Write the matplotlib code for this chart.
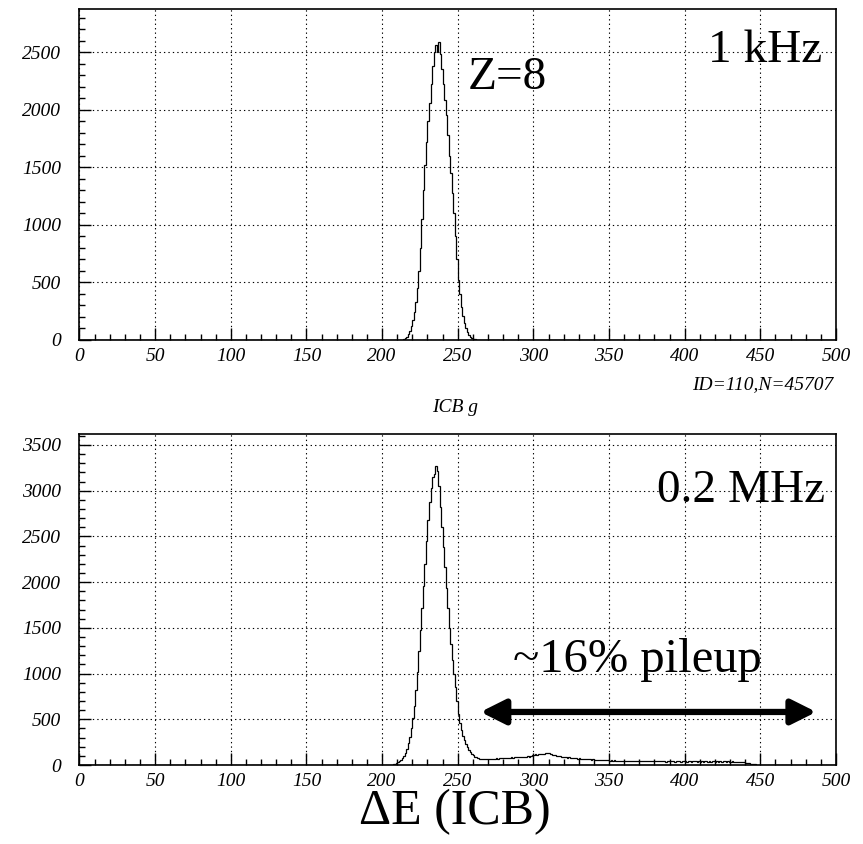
import numpy as np
import matplotlib.pyplot as plt
from matplotlib.ticker import MultipleLocator

# ---- data (counts per ICB channel, bin width 1) ----
N_BINS = 500

# 1 kHz run, Z=8 peak
top_first_bin = 214
top_counts = [5, 15, 30, 50, 80, 120, 170, 240, 330, 450,
              600, 800, 1050, 1300, 1520, 1720, 1900, 2060, 2220, 2380,
              2500, 2560, 2500, 2590, 2480, 2350, 2220, 2080, 1950, 1780,
              1600, 1450, 1280, 1100, 900, 700, 520, 400, 290, 210,
              150, 105, 70, 45, 28, 16, 9, 5, 2]

# 0.2 MHz run, peak + pileup tail
bot_first_bin = 205
bot_counts = [3, 5, 8, 12, 18, 28, 40, 55, 75, 100,
              135, 180, 240, 310, 400, 510, 650, 820, 1020, 1250,
              1480, 1720, 1960, 2200, 2450, 2680, 2880, 3030, 3150, 3180,
              3270, 3210, 3050, 2820, 2600, 2380, 2160, 1940, 1720, 1500,
              1320, 1150, 990, 850, 700,
              # 250 ...
              560, 460, 380, 320, 270, 230, 195, 165, 140, 120,
              105, 92, 84, 76, 70, 66, 63, 61, 62, 64,
              66, 65, 68, 70, 67, 72, 70, 74, 72, 77,
              74, 79, 76, 81, 78, 84, 80, 86, 83, 88,
              85, 90, 87, 92, 89, 91, 94, 90, 97, 112,
              110, 115, 112, 118, 115, 121, 118, 124, 128, 132,
              126, 120, 114, 110, 106, 102, 98, 95, 92, 89,
              86, 84, 81, 83, 79, 77, 80, 75, 73, 71,
              73, 69, 67, 70, 65, 63, 66, 61, 59, 62,
              58, 56, 59, 55, 53, 56, 51, 54, 50, 52,
              49, 51, 47, 50, 46, 48, 45, 49, 44, 47,
              43, 46, 42, 45, 47, 43, 41, 45, 42, 44,
              40, 44, 41, 43, 39, 43, 41, 45, 40, 42,
              41, 44, 39, 42, 43, 40, 42, 38, 41, 44,
              39, 41, 42, 38, 41, 40, 43, 37, 41, 39,
              42, 38, 40, 41, 37, 40, 39, 42, 36, 40,
              38, 41, 37, 40, 42, 38, 40, 36, 39, 41,
              37, 40, 38, 41, 36, 39, 40, 37, 39, 38,
              36, 39, 37, 35, 38, 34, 36, 33, 31, 28,
              24, 20, 17, 14, 11, 8, 6, 4, 3, 2,
              1, 1, 1]

x_ticks = [0, 50, 100, 150, 200, 250, 300, 350, 400, 450, 500]


def full_hist(first, counts):
    h = np.zeros(N_BINS)
    h[first:first + len(counts)] = counts
    return h


edges = np.arange(N_BINS + 1)

plt.rcParams['font.family'] = ['Liberation Serif', 'DejaVu Serif']

fig = plt.figure(figsize=(8.63, 8.44), dpi=100)
ax1 = fig.add_axes([0.0921, 0.5972, 0.8766, 0.3922])
ax2 = fig.add_axes([0.0921, 0.0936, 0.8766, 0.3922])


def style(ax, ymax):
    ax.set_xlim(0, 500)
    ax.set_ylim(0, ymax)
    ax.set_xticks(x_ticks)
    ax.xaxis.set_minor_locator(MultipleLocator(10))
    ax.yaxis.set_major_locator(MultipleLocator(500))
    ax.yaxis.set_minor_locator(MultipleLocator(100))
    ax.tick_params(which='both', direction='in', top=False, right=False,
                   width=1.0, color='black')
    ax.tick_params(which='major', length=8.5)
    ax.tick_params(which='minor', length=4.3)
    ax.tick_params(axis='y', which='major', pad=13)
    ax.tick_params(axis='x', which='major', pad=6)
    for lab in ax.get_xticklabels() + ax.get_yticklabels():
        lab.set_fontstyle('italic')
        lab.set_fontsize(14)
    for s in ax.spines.values():
        s.set_linewidth(1.2)
    ax.grid(True, which='major', color='black', linewidth=0.8,
            linestyle=(0, (1.2, 2.8)))
    ax.set_axisbelow(True)


ax1.stairs(full_hist(top_first_bin, top_counts), edges, color='black', linewidth=0.9)
style(ax1, 2875)
ax1.text(491, 2510, '1 kHz', fontsize=34, ha='right', va='center')
ax1.text(283, 2280, 'Z=8', fontsize=34, ha='center', va='center')
fig.text(833 / 863, 1 - 385 / 844, 'ID=110,N=45707', fontsize=14,
         style='italic', ha='right', va='center')
fig.text(455 / 863, 1 - 408 / 844, 'ICB g', fontsize=14,
         style='italic', ha='center', va='center')

ax2.stairs(full_hist(bot_first_bin, bot_counts), edges, color='black', linewidth=0.9)
style(ax2, 3620)
ax2.text(493, 3000, '0.2 MHz', fontsize=34, ha='right', va='center')
ax2.text(369, 1150, '~16% pileup', fontsize=35, ha='center', va='center')
ax2.annotate('', xy=(487, 580), xytext=(265, 580),
             arrowprops=dict(arrowstyle='<|-|>,head_length=0.5,head_width=0.25',
                             color='black', linewidth=4.5,
                             mutation_scale=30, shrinkA=0, shrinkB=0))
fig.text(455 / 863, 1 - 812 / 844, 'ΔE (ICB)', fontsize=36,
         ha='center', va='center')

fig.savefig('out.png', dpi=100)
